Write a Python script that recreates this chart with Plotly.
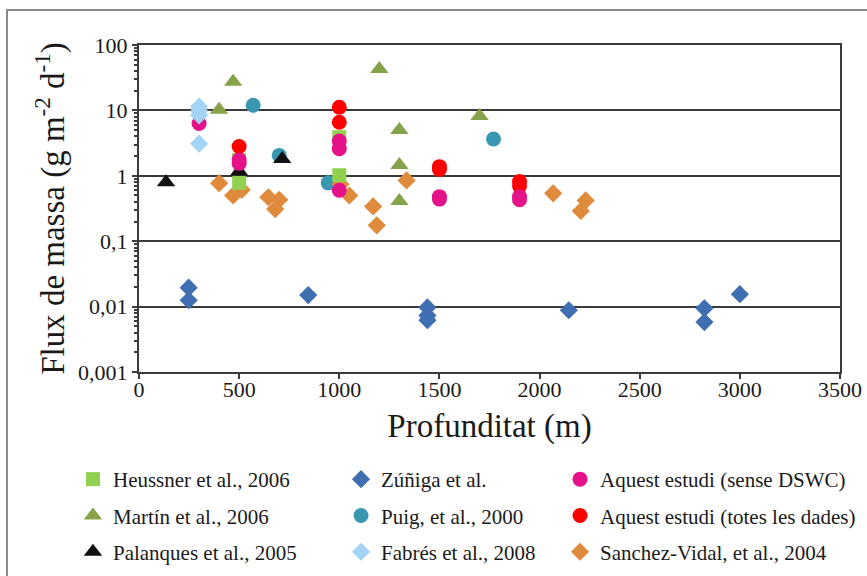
import plotly.graph_objects as go

# Depth (m) and mass flux (g m-2 d-1) for each source
heussner_x = [500, 500, 1000, 1000]
heussner_y = [1.75, 0.78, 3.9, 1.02]

martin_x = [400, 470, 1200, 1300, 1300, 1300, 1700]
martin_y = [10.2, 27.5, 43, 5.0, 1.46, 0.41, 8.2]

palanques_x = [135, 500, 715]
palanques_y = [0.80, 1.16, 1.80]

zuniga_x = [248, 248, 845, 1440, 1440, 1440, 2146, 2823, 2823, 3000]
zuniga_y = [0.0195, 0.0125, 0.015, 0.0097, 0.0073, 0.0062, 0.0088, 0.0094, 0.0058, 0.0155]

puig_x = [570, 700, 945, 1770]
puig_y = [12.0, 2.05, 0.78, 3.65]

fabres_x = [300, 300, 300, 300]
fabres_y = [11.4, 9.8, 8.4, 3.1]

sense_x = [300, 500, 500, 1000, 1000, 1000, 1500, 1500, 1900, 1900]
sense_y = [6.3, 1.75, 1.55, 3.4, 2.6, 0.60, 0.48, 0.44, 0.48, 0.43]

totes_x = [500, 1000, 1000, 1500, 1500, 1900, 1900]
totes_y = [2.8, 11.2, 6.6, 1.38, 1.25, 0.82, 0.70]

sanchez_x = [400, 470, 513, 646, 700, 680, 1006, 1050, 1169, 1187, 1336, 2068, 2230, 2206]
sanchez_y = [0.77, 0.50, 0.61, 0.47, 0.43, 0.31, 0.74, 0.50, 0.34, 0.175, 0.85, 0.54, 0.42, 0.29]

y_tickvals = [0.001, 0.01, 0.1, 1, 10, 100]
y_ticktext = ["0,001", "0,01", "0,1", "1", "10", "100"]
x_tickvals = [0, 500, 1000, 1500, 2000, 2500, 3000, 3500]

FONT = "Liberation Serif"
TXT = "#1a1a1a"

# (name, x, y, symbol, color, size, legend, rank) in drawing order
series = [
    ("Puig, et al., 2000", puig_x, puig_y, "circle", "#3A97B2", 15, "legend2", 2),
    ("Sanchez-Vidal, et al., 2004", sanchez_x, sanchez_y, "diamond", "#E08A3C", 14, "legend3", 3),
    ("Zúñiga et al.", zuniga_x, zuniga_y, "diamond", "#3F6FB0", 14, "legend2", 1),
    ("Heussner et al., 2006", heussner_x, heussner_y, "square", "#92D050", 14, "legend", 1),
    ("Martín et al., 2006", martin_x, martin_y, "triangle-up", "#86A34A", 16, "legend", 2),
    ("Palanques et al., 2005", palanques_x, palanques_y, "triangle-up", "#111111", 16, "legend", 3),
    ("Aquest estudi (totes les dades)", totes_x, totes_y, "circle", "#FF0000", 15, "legend3", 2),
    ("Aquest estudi (sense DSWC)", sense_x, sense_y, "circle", "#E5128A", 15, "legend3", 1),
    ("Fabrés et al., 2008", fabres_x, fabres_y, "diamond", "#A3D3F5", 14, "legend2", 3),
]

fig = go.Figure()
for i, (name, xs, ys, sym, col, size, leg, rank) in enumerate(series):
    fig.add_trace(go.Scatter(
        x=xs, y=ys, mode="markers", name=name,
        marker=dict(symbol=sym, color=col, size=size, line=dict(width=0)),
        legend=leg, legendrank=rank, legendgroup=f"g{i}",
    ))

minor_vals = [m * 10 ** e for e in range(-3, 2) for m in range(2, 10)]

legend_common = dict(
    orientation="v", yanchor="top", xanchor="left",
    font=dict(family=FONT, size=21, color=TXT),
    bgcolor="rgba(0,0,0,0)", tracegroupgap=6, itemsizing="trace",
)

fig.update_layout(
    width=867, height=576,
    margin=dict(l=139, r=27, t=45, b=204, autoexpand=False),
    paper_bgcolor="white", plot_bgcolor="white",
    font=dict(family=FONT, color=TXT),
    xaxis=dict(
        range=[0, 3500], tickmode="array", tickvals=x_tickvals,
        showgrid=False, zeroline=False,
        showline=True, linecolor="#3a3a3a", linewidth=2, mirror=True,
        ticks="outside", ticklen=5, tickcolor="#3a3a3a", tickwidth=1.5,
        ticklabelstandoff=-8,
        tickfont=dict(family=FONT, size=22, color=TXT),
        title=dict(text="Profunditat (m)", font=dict(family=FONT, size=33, color=TXT), standoff=12),
    ),
    yaxis=dict(
        type="log", range=[-3, 2], tickmode="array",
        tickvals=y_tickvals, ticktext=y_ticktext,
        showgrid=True, gridcolor="#3a3a3a", gridwidth=2, zeroline=False,
        showline=True, linecolor="#3a3a3a", linewidth=2, mirror=True,
        ticks="outside", ticklen=5, tickcolor="#3a3a3a", tickwidth=1.5,
        minor=dict(tickmode="array", tickvals=minor_vals, ticks="outside",
                   ticklen=3, tickcolor="#3a3a3a", showgrid=False),
        tickfont=dict(family=FONT, size=22, color=TXT),
        title=dict(text="Flux de massa (g m<sup>-2</sup> d<sup>-1</sup>)",
                   font=dict(family=FONT, size=33, color=TXT), standoff=4),
    ),
    legend=dict(x=-0.0942, y=-0.266, **legend_common),
    legend2=dict(x=0.2882, y=-0.266, **legend_common),
    legend3=dict(x=0.6006, y=-0.266, **legend_common),
    shapes=[dict(
        type="rect", xref="paper", yref="paper",
        x0=-0.1883, y0=-0.75, x1=1.06, y1=1.107,
        line=dict(color="#8a8a8a", width=2), fillcolor="rgba(0,0,0,0)", layer="below",
    )],
)

fig.write_html("out.html")
